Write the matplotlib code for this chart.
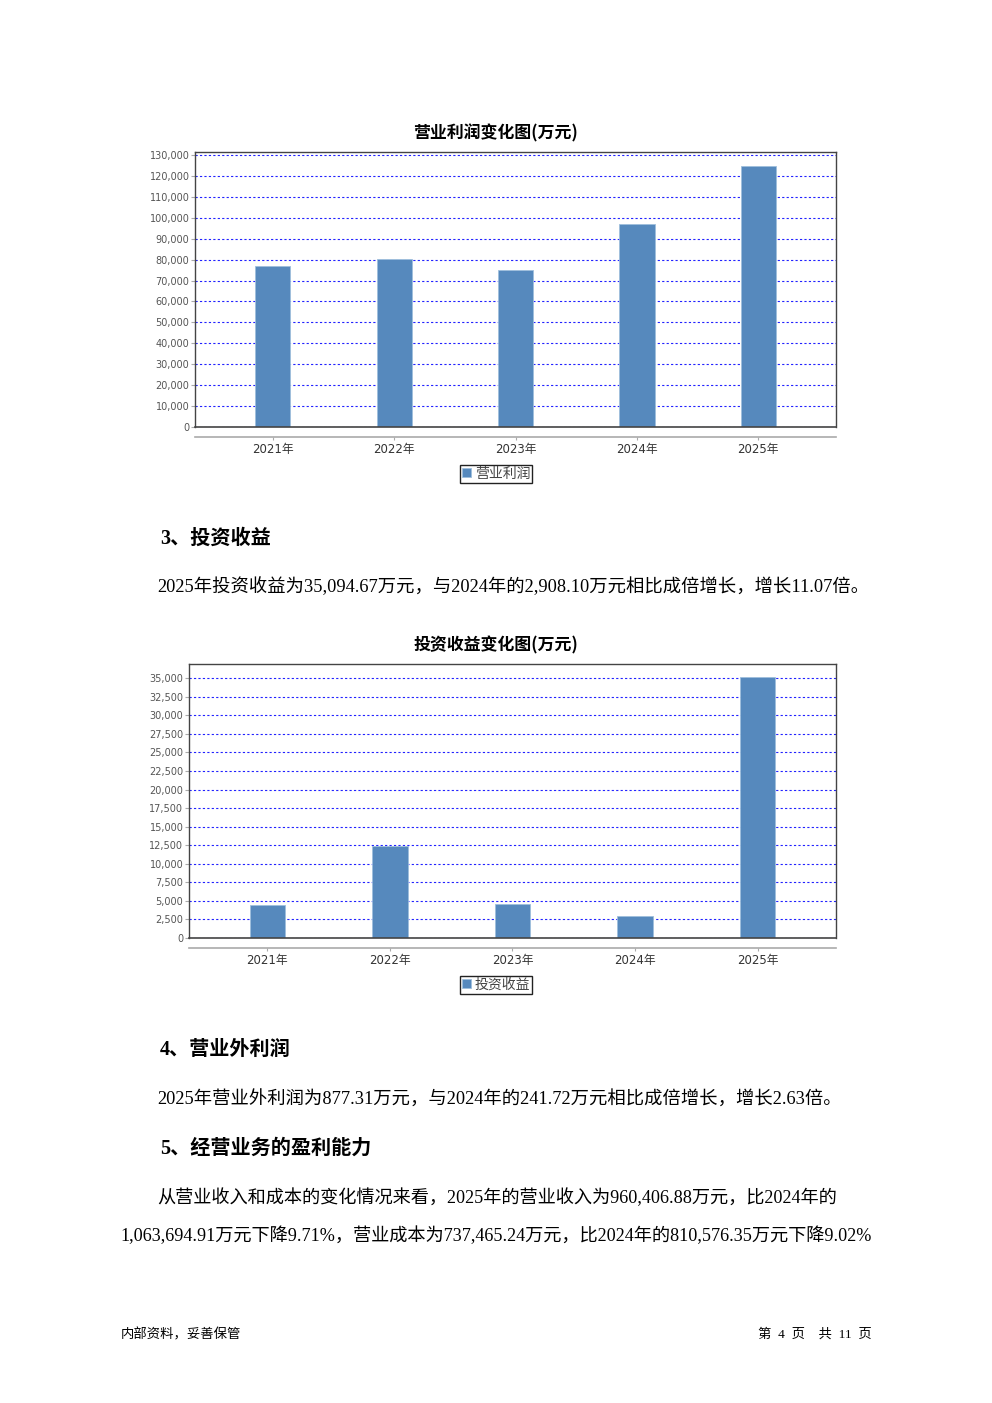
import matplotlib
matplotlib.use("Agg")
import matplotlib.pyplot as plt
from matplotlib.ticker import FuncFormatter, MultipleLocator

plt.rcParams['font.family'] = ['Noto Sans CJK SC', 'DejaVu Sans']

years = ["2021年", "2022年", "2023年", "2024年", "2025年"]
op_profit = [77070, 80260, 75000, 97020, 124940]
inv_income = [4470, 12350, 4600, 2908.10, 35094.67]

BAR = "#5689bd"
SERIF = ['Liberation Serif', 'Noto Sans CJK SC']
TICKF = ['DejaVu Sans', 'Noto Sans CJK SC']

fig = plt.figure(figsize=(9.92, 14.03), dpi=100)


def bar_chart(rect, values, label, title, ymax, step):
    ax = fig.add_axes(rect)
    x = range(len(values))
    ax.bar(x, values, width=0.29, color=BAR, edgecolor="#9fbfdc", linewidth=0.6,
           label=label, zorder=3)
    ax.set_xlim(-0.64, len(values) - 0.36)
    ax.set_ylim(0, ymax)
    ax.yaxis.set_major_locator(MultipleLocator(step))
    ax.yaxis.set_major_formatter(FuncFormatter(lambda v, p: f"{int(v):,}"))
    ax.grid(axis="y", color="#2222ff", linestyle=(0, (2, 2)), linewidth=0.8, zorder=1)
    for s in ["top", "right", "left"]:
        ax.spines[s].set_color("#444444")
        ax.spines[s].set_linewidth(1.0)
    ax.spines["bottom"].set_position(("outward", 7))
    ax.spines["bottom"].set_color("#aaaaaa")
    ax.spines["bottom"].set_linewidth(1.2)
    ax.axhline(0, color="#444444", linewidth=1.2, zorder=4, clip_on=False)
    ax.set_xticks(list(x))
    ax.set_xticklabels(years, fontsize=8.5, color="#333333", family=TICKF)
    ax.tick_params(axis="x", length=2, color="#aaaaaa", pad=2.5)
    ax.tick_params(axis="y", length=3, color="#aaaaaa", labelsize=7, labelcolor="#555555", pad=1)
    for t in ax.get_yticklabels():
        t.set_family(TICKF)
    # title and legend are centred on the page, not on the plot box
    cx = (0.5 - rect[0]) / rect[2]
    ax.set_title(title, fontsize=12.2, fontweight="bold", pad=10, x=cx)
    leg = ax.legend(loc="center", bbox_to_anchor=(cx, -0.17), fontsize=10,
                    handlelength=0.65, handleheight=0.65, handletextpad=0.3,
                    borderpad=0.15, borderaxespad=0, fancybox=False, framealpha=1,
                    labelcolor="#444444")
    leg.get_frame().set_edgecolor("#222222")
    leg.get_frame().set_linewidth(1.0)
    return ax


bar_chart([0.1966, 0.6957, 0.6462, 0.1960], op_profit, "营业利润",
          "营业利润变化图(万元)", 131500, 10000)
bar_chart([0.1905, 0.3314, 0.6522, 0.1953], inv_income, "投资收益",
          "投资收益变化图(万元)", 36900, 2500)


def ftext(x, y, s, **kw):
    fig.text(x / 992, 1 - y / 1403, s, va="center", **kw)


ftext(160, 539, "3、投资收益", fontsize=14.5, fontweight="bold", family=SERIF)
ftext(157, 587, "2025年投资收益为35,094.67万元，与2024年的2,908.10万元相比成倍增长，增长11.07倍。",
      fontsize=13.2, family=SERIF)
ftext(160, 1050, "4、营业外利润", fontsize=14.5, fontweight="bold", family=SERIF)
ftext(157, 1100, "2025年营业外利润为877.31万元，与2024年的241.72万元相比成倍增长，增长2.63倍。",
      fontsize=13.2, family=SERIF)
ftext(160, 1149, "5、经营业务的盈利能力", fontsize=14.5, fontweight="bold", family=SERIF)
ftext(157, 1198, "从营业收入和成本的变化情况来看，2025年的营业收入为960,406.88万元，比2024年的",
      fontsize=13.1, family=SERIF)
ftext(120, 1236, "1,063,694.91万元下降9.71%，营业成本为737,465.24万元，比2024年的810,576.35万元下降9.02%",
      fontsize=13.1, family=SERIF)

ftext(121, 1334, "内部资料，妥善保管", fontsize=9.6)
ftext(872, 1334, "第  4  页    共  11  页", fontsize=9.6, ha="right", family=SERIF)

fig.savefig("out.png", dpi=100)
